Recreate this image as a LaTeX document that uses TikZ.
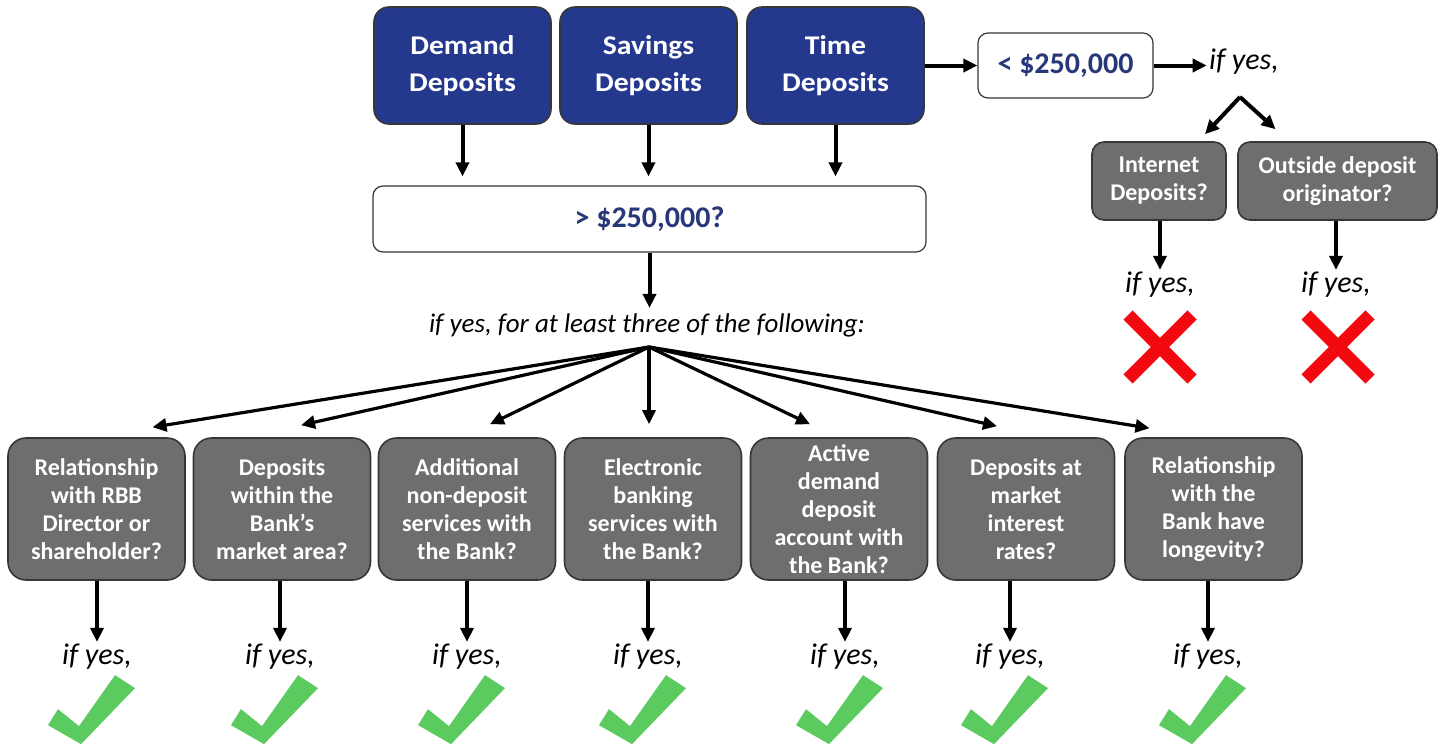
\documentclass[tikz,border=0pt]{standalone}
\usepackage{fontspec}
\setmainfont{Carlito}
\newfontfamily\widefont{Carlito}[FakeStretch=1.1]
\usetikzlibrary{arrows.meta,calc}

\definecolor{deepblue}{RGB}{36,56,142}
\definecolor{amounttext}{RGB}{40,55,120}
\definecolor{boxgray}{RGB}{110,110,110}
\definecolor{edgegray}{RGB}{55,55,55}
\definecolor{okgreen}{RGB}{92,203,95}
\definecolor{nored}{RGB}{242,10,16}

\tikzset{
  kind/.style={draw=edgegray, line width=0.8pt, fill=deepblue, rounded corners=7.5pt,
    text=white, align=center, minimum width=88.5pt, minimum height=58.5pt,
    font=\widefont\bfseries\fontsize{13.5}{18.5}\selectfont},
  amount/.style={draw=edgegray, line width=0.6pt, fill=white, rounded corners=5pt,
    text=amounttext, font=\bfseries\fontsize{15}{18}\selectfont},
  test/.style={draw=edgegray, line width=0.8pt, fill=boxgray, rounded corners=9pt,
    text=white, align=center, minimum width=88.5pt, minimum height=71pt, inner sep=1pt,
    font=\bfseries\fontsize{12}{14}\selectfont},
  hand/.style={font=\itshape\fontsize{15}{18}\selectfont, inner sep=1pt},
  arr/.style={line width=2pt, -{Triangle[length=7pt,width=6.5pt]}},
  fanarr/.style={line width=1.6pt, -{Triangle[length=7pt,width=6.5pt]}},
  okmark/.pic={\fill[okgreen] (0,0) -- (-33,-19) -- (-23,-35) -- (-2,-18) -- (34,-69) -- (54,-56) -- cycle;},
  nomark/.pic={\draw[nored, line width=6.5pt] (-32,-32) -- (32,32) (-32,32) -- (32,-32);}
}

\begin{document}
\begin{tikzpicture}[x=0.5pt,y=-0.5pt]
  \useasboundingbox (0,0) rectangle (1447,751);

  % kinds of deposits
  \node[kind] (demand) at (462.5,65.5) {Demand\\Deposits};
  \node[kind] (savings) at (648.5,65.5) {Savings\\Deposits};
  \node[kind] (time) at (835.5,65.5) {Time\\Deposits};
  \node[amount, minimum width=87.5pt, minimum height=32.5pt] (small) at (1065.5,65.5) {< \$250,000};
  \node[amount, minimum width=276.5pt, minimum height=33pt] (large) at (649.5,219) {> \$250,000?};

  % under the limit
  \node[hand] (ifsmall) at (1244,62) {if yes,};
  \coordinate (split) at (1240,97);
  \node[test, minimum width=67pt, minimum height=39pt, rounded corners=6pt] (internet) at (1159,181) {Internet\\Deposits?};
  \node[test, minimum width=99.5pt, minimum height=39pt, rounded corners=6pt] (outside) at (1337.5,181) {Outside deposit\\originator?};
  \node[hand] (ifnet) at (1160,285) {if yes,};
  \node[hand] (ifout) at (1336,285) {if yes,};
  \pic at ($(ifnet)+(0,62)$) {nomark};
  \pic at ($(ifout)+(2,62)$) {nomark};

  % over the limit
  \node[hand, font=\itshape\fontsize{13.5}{16}\selectfont] (rule) at (647,325) {if yes, for at least three of the following:};
  \coordinate (fork) at (649,347);

  \node[test] (b1) at (96.5,509) {Relationship\\with RBB\\Director or\\shareholder?};
  \node[test] (b2) at (282,509) {Deposits\\within the\\Bank’s\\market area?};
  \node[test] (b3) at (467,509) {Additional\\non-deposit\\services with\\the Bank?};
  \node[test] (b4) at (653,509) {Electronic\\banking\\services with\\the Bank?};
  \node[test] (b5) at (839,509) {Active\\demand\\deposit\\account with\\the Bank?};
  \node[test] (b6) at (1026,509) {Deposits at\\market\\interest\\rates?};
  \node[test] (b7) at (1213.5,509) {Relationship\\with the\\Bank have\\longevity?};

  \node[hand] (if1) at (97,657) {if yes,};
  \node[hand] (if2) at (280,657) {if yes,};
  \node[hand] (if3) at (467,657) {if yes,};
  \node[hand] (if4) at (648,657) {if yes,};
  \node[hand] (if5) at (845,657) {if yes,};
  \node[hand] (if6) at (1010,657) {if yes,};
  \node[hand] (if7) at (1208,657) {if yes,};

  \begin{scope}
    \draw[arr] (demand.south) -- ($(demand.south |- large.north)+(0,-9)$);
    \draw[arr] (savings.south) -- ($(savings.south |- large.north)+(0,-9)$);
    \draw[arr] (time.south) -- ($(time.south |- large.north)+(0,-9)$);
    \draw[arr] (time.east) -- (small.west);
    \draw[arr] (small.east) -- (small.east -| ifsmall.west);
    \draw[arr] (split) -- ($(internet.north)+(46,-7)$);
    \draw[arr] (split) -- ($(outside.north)+(-62,-12)$);
    \draw[arr] (internet.south -| ifnet) -- (ifnet.north);
    \draw[arr] (outside.south -| ifout) -- (ifout.north);
    \draw[arr] (large.south) -- ($(large.south |- rule.north)+(0,-3)$);
    \foreach \b/\dx/\dy in {b1/56/-10, b2/19/-12, b3/23/-13, b4/-4/-13, b5/-29/-13, b6/-29/-11, b7/-64/-9}
      \draw[fanarr] (fork) -- ($(\b.north)+(\dx,\dy)$);
    \foreach \i in {1,...,7}
      \draw[arr] (b\i.south -| if\i) -- (if\i.north);
  \end{scope}

  \foreach \i in {1,...,7}
    \pic at ($(if\i.south)+(-16,72)$) {okmark};
\end{tikzpicture}
\end{document}
